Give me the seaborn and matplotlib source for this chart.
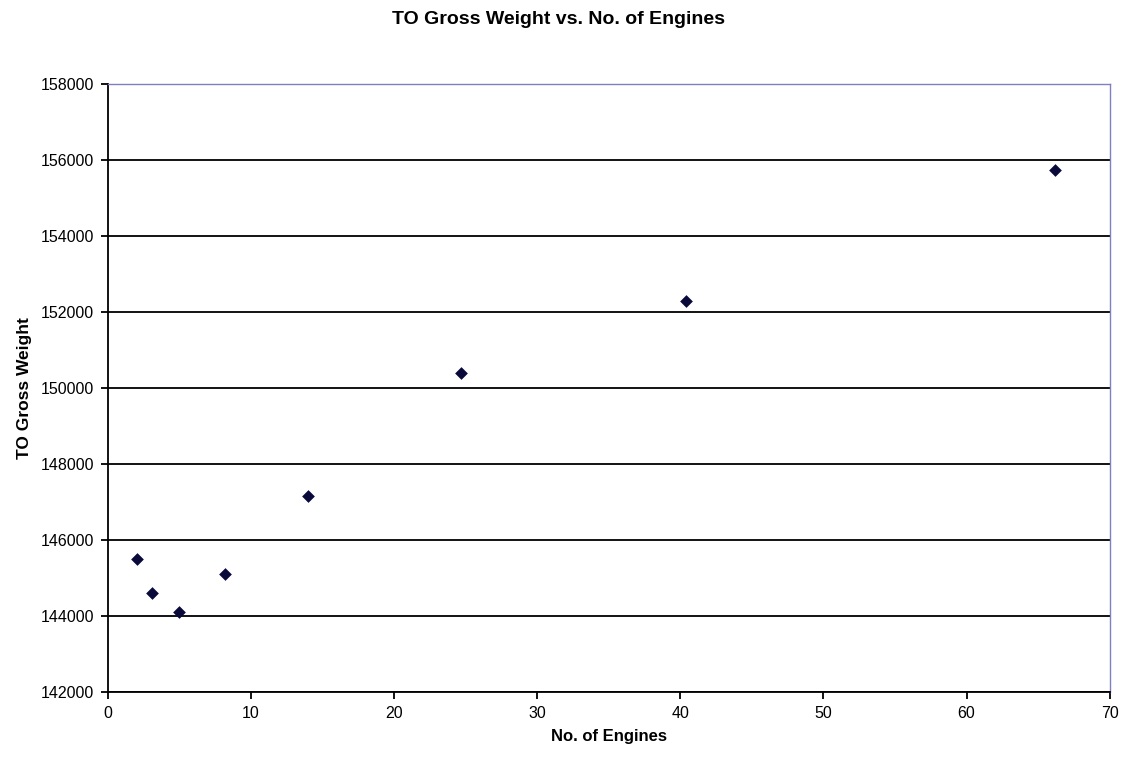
import matplotlib
matplotlib.use("Agg")
import matplotlib.pyplot as plt
import seaborn as sns
import pandas as pd

# data
engines = [2, 3.1, 5, 8.2, 14, 24.7, 40.4, 66.2]
gross_weight = [145500, 144600, 144100, 145100, 147150, 150400, 152300, 155750]

df = pd.DataFrame({"engines": engines, "weight": gross_weight})

sns.set_style("white", {"text.color": "black", "axes.labelcolor": "black",
                        "xtick.color": "black", "ytick.color": "black"})
plt.rcParams["font.family"] = ["Liberation Sans", "DejaVu Sans"]

fig = plt.figure(figsize=(11.28, 7.57), dpi=100)
ax = fig.add_axes([0.0957, 0.086, 0.888, 0.803])

sns.scatterplot(data=df, x="engines", y="weight", marker="D", s=42,
                color="#0a0a3a", edgecolor="#0a0a3a", linewidth=0, ax=ax, zorder=3)

ax.set_xlim(0, 70)
ax.set_ylim(142000, 158000)
ax.set_xticks(range(0, 71, 10))
ax.set_yticks(range(142000, 158001, 2000))
ax.grid(axis="y", color="black", linewidth=1.3)
ax.grid(axis="x", visible=False)

for side in ["left", "bottom"]:
    ax.spines[side].set_color("black")
    ax.spines[side].set_linewidth(1.3)
for side in ["top", "right"]:
    ax.spines[side].set_visible(True)
    ax.spines[side].set_color("#8080c0")
    ax.spines[side].set_linewidth(1)

ax.tick_params(axis="both", direction="out", length=5, width=1.3, color="black",
               labelsize=11.5, labelcolor="black", left=True, bottom=True, pad=5)

ax.set_xlabel("No. of Engines", fontsize=12, fontweight="bold", labelpad=6)
ax.set_ylabel("TO Gross Weight", fontsize=12.5, fontweight="bold", labelpad=6)
fig.suptitle("TO Gross Weight vs. No. of Engines", fontsize=14, fontweight="bold",
             x=0.495, y=0.985)

fig.savefig("out.png", dpi=100)
